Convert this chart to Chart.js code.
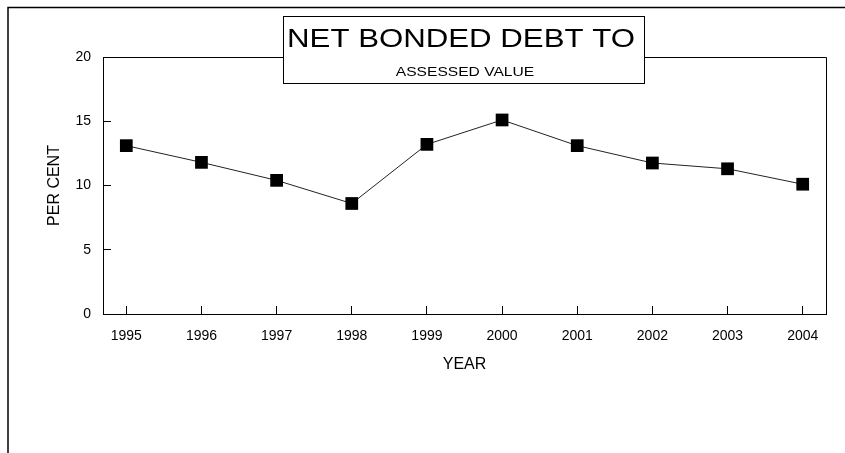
<!DOCTYPE html>
<html>
<head>
<meta charset="utf-8">
<title>Net Bonded Debt to Assessed Value</title>
<script src="https://cdn.jsdelivr.net/npm/chart.js@4.4.1/dist/chart.umd.min.js"></script>
<style>
    html, body { margin: 0; padding: 0; background: #fff; }
    #wrap { width: 845px; height: 453px; position: relative; }
</style>
</head>
<body>
<div id="wrap"><canvas id="debt" width="845" height="453"></canvas></div>
<script>
// --- Data -------------------------------------------------------------------
const years = [1995, 1996, 1997, 1998, 1999, 2000, 2001, 2002, 2003, 2004]
const perCent = [13.1, 11.8, 10.4, 8.6, 13.2, 15.1, 13.1, 11.75, 11.3, 10.1]
const yTicks = [0, 5, 10, 15, 20]

const titleMain = 'NET BONDED DEBT TO'
const titleSub = 'ASSESSED VALUE'

const FONT = '"Liberation Sans", Arial, Helvetica, sans-serif'
Chart.defaults.font.family = FONT
Chart.defaults.color = '#000'

// --- Plugins ----------------------------------------------------------------
// Outer sheet border plus the box round the plot area
const framePlugin = {
    id: 'frame',
    beforeDraw(chart) {
        const ctx = chart.ctx
        ctx.save()
        ctx.strokeStyle = '#000'
        ctx.lineWidth = 1.5
        ctx.beginPath()
        ctx.moveTo(8, 453)
        ctx.lineTo(8, 7.5)
        ctx.lineTo(845, 7.5)
        ctx.stroke()
        ctx.restore()
    },
    beforeDatasetsDraw(chart) {
        const { ctx, chartArea } = chart
        ctx.save()
        ctx.strokeStyle = '#000'
        ctx.lineWidth = 1
        ctx.beginPath()
        ctx.moveTo(chartArea.left, chartArea.top + 0.5)
        ctx.lineTo(chartArea.right + 0.5, chartArea.top + 0.5)
        ctx.lineTo(chartArea.right + 0.5, chartArea.bottom)
        ctx.stroke()
        ctx.restore()
    }
}

// Boxed title that sits over the top edge of the plot
const titleBoxPlugin = {
    id: 'titleBox',
    afterDraw(chart) {
        const ctx = chart.ctx
        const box = { x: 283.5, y: 16.5, w: 361, h: 67 }
        ctx.save()
        ctx.fillStyle = '#fff'
        ctx.fillRect(box.x, box.y, box.w, box.h)
        ctx.strokeStyle = '#000'
        ctx.lineWidth = 1
        ctx.strokeRect(box.x, box.y, box.w, box.h)

        ctx.fillStyle = '#000'
        ctx.textAlign = 'center'
        ctx.textBaseline = 'alphabetic'

        ctx.save()
        ctx.translate(461, 46.5)
        ctx.scale(1.2, 1)
        ctx.font = `26px ${FONT}`
        ctx.fillText(titleMain, 0, 0)
        ctx.restore()

        ctx.save()
        ctx.translate(465, 76)
        ctx.scale(1.2, 1)
        ctx.font = `13px ${FONT}`
        ctx.fillText(titleSub, 0, 0)
        ctx.restore()

        ctx.restore()
    }
}

// --- Chart ------------------------------------------------------------------
const canvas = document.getElementById('debt')

new Chart(canvas, {
    type: 'line',
    data: {
        datasets: [{
            label: 'Per cent',
            data: years.map((y, i) => ({ x: y, y: perCent[i] })),
            borderColor: '#222',
            borderWidth: 1,
            tension: 0,
            pointStyle: 'rect',
            pointRadius: 9,
            pointBorderWidth: 0,
            pointBackgroundColor: '#000',
            pointBorderColor: '#000'
        }]
    },
    options: {
        responsive: false,
        animation: false,
        layout: {
            padding: { left: 0, top: 57, right: 19, bottom: 0 }
        },
        plugins: {
            legend: { display: false },
            tooltip: { enabled: false }
        },
        scales: {
            x: {
                type: 'linear',
                min: 1994.69,
                max: 2004.31,
                afterBuildTicks: scale => {
                    scale.ticks = years.map(v => ({ value: v }))
                },
                afterFit: scale => { scale.height = 139 },
                ticks: {
                    callback: v => String(v),
                    font: { size: 14 },
                    color: '#000',
                    padding: 22,
                    maxRotation: 0
                },
                grid: {
                    drawOnChartArea: false,
                    tickLength: -8,
                    color: '#000',
                    lineWidth: 1
                },
                border: { color: '#000', width: 1 },
                title: {
                    display: true,
                    text: 'YEAR',
                    font: { size: 16 },
                    color: '#000',
                    padding: { top: 0, bottom: 79 }
                }
            },
            y: {
                min: 0,
                max: 20,
                afterBuildTicks: scale => {
                    scale.ticks = yTicks.map(v => ({ value: v }))
                },
                afterFit: scale => { scale.width = 103 },
                ticks: {
                    font: { size: 14 },
                    color: '#000',
                    padding: 20
                },
                grid: {
                    drawOnChartArea: false,
                    tickLength: -8,
                    color: '#000',
                    lineWidth: 1
                },
                border: { color: '#000', width: 1 },
                title: {
                    display: true,
                    text: 'PER CENT',
                    font: { size: 16 },
                    color: '#000',
                    padding: { top: 45, bottom: 0 }
                }
            }
        }
    },
    plugins: [framePlugin, titleBoxPlugin]
})
</script>
</body>
</html>
